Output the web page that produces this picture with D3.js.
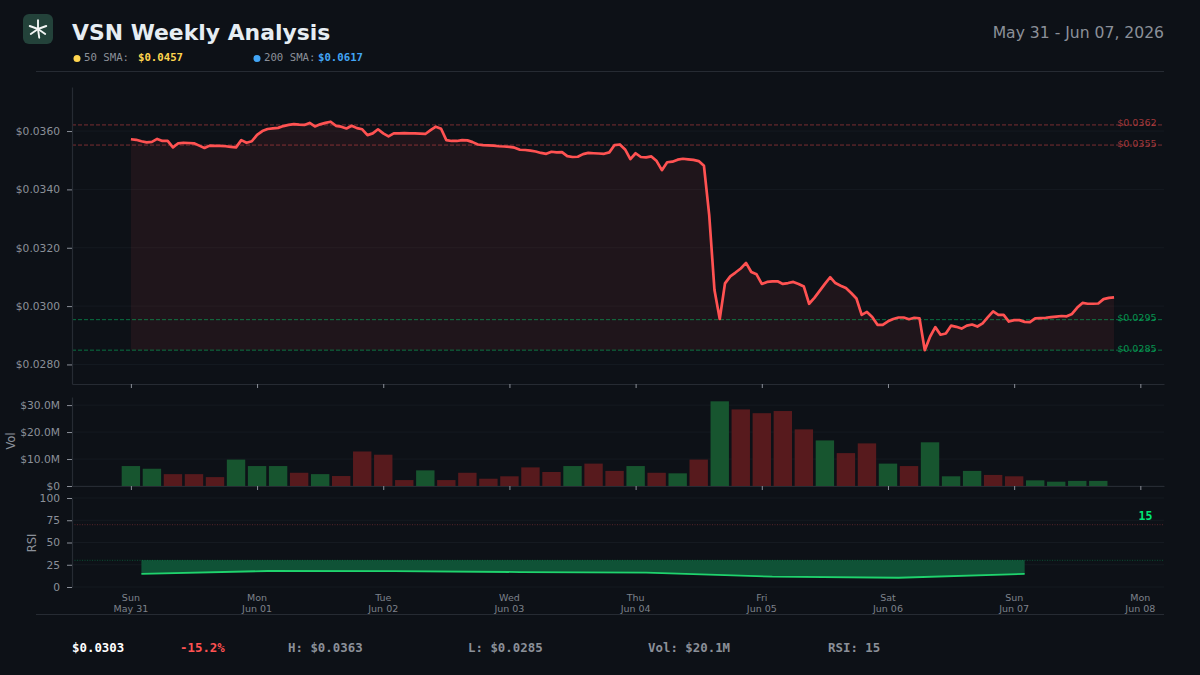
<!DOCTYPE html>
<html>
<head>
<meta charset="utf-8">
<script src="https://cdn.jsdelivr.net/npm/d3@7"></script>
<style>
  body { margin: 0; background: #0d1117; }
  text { font-family: "DejaVu Sans", sans-serif; }
  .mono { font-family: "DejaVu Sans Mono", monospace; }
</style>
</head>
<body>
<div id="chart"></div>
<script>
// hourly closes, first one is May 31 00:00
var priceValues = [
  0.03572,0.03570,0.03565,0.03561,0.03563,0.03573,0.03566,0.03566,0.03544,0.03558,0.03560,0.03559,
  0.03558,0.03550,0.03542,0.03550,0.03549,0.03549,0.03548,0.03546,0.03544,0.03569,0.03560,0.03565,
  0.03587,0.03600,0.03607,0.03609,0.03611,0.03617,0.03621,0.03624,0.03622,0.03621,0.03628,0.03616,
  0.03623,0.03628,0.03632,0.03618,0.03615,0.03609,0.03618,0.03610,0.03606,0.03586,0.03592,0.03606,
  0.03592,0.03582,0.03592,0.03592,0.03593,0.03592,0.03592,0.03591,0.03590,0.03603,0.03615,0.03608,
  0.03569,0.03566,0.03566,0.03569,0.03568,0.03562,0.03554,0.03552,0.03551,0.03550,0.03548,0.03547,
  0.03546,0.03543,0.03536,0.03535,0.03533,0.03530,0.03525,0.03522,0.03529,0.03527,0.03528,0.03514,
  0.03511,0.03512,0.03521,0.03525,0.03524,0.03523,0.03522,0.03527,0.03552,0.03554,0.03537,0.03504,
  0.03524,0.03511,0.03510,0.03513,0.03497,0.03466,0.03493,0.03495,0.03502,0.03505,0.03503,0.03501,
  0.03497,0.03481,0.03312,0.03055,0.02956,0.03078,0.03102,0.03115,0.03129,0.03148,0.03117,0.03109,
  0.03076,0.03083,0.03085,0.03085,0.03076,0.03079,0.03083,0.03076,0.03067,0.03008,0.03028,0.03052,
  0.03076,0.03099,0.03079,0.03070,0.03062,0.03045,0.03026,0.02970,0.02980,0.02963,0.02936,0.02936,
  0.02948,0.02956,0.02961,0.02961,0.02955,0.02960,0.02958,0.02849,0.02895,0.02928,0.02902,0.02906,
  0.02933,0.02929,0.02923,0.02933,0.02937,0.02930,0.02941,0.02962,0.02982,0.02970,0.02970,0.02947,
  0.02952,0.02952,0.02946,0.02945,0.02958,0.02959,0.02960,0.02962,0.02964,0.02966,0.02965,0.02973,
  0.02995,0.03011,0.03008,0.03008,0.03009,0.03024,0.03028,0.03030
];
// 4h volume in $M and whether the candle closed up
var volumeValues = [
  7.4,6.4,4.4,4.4,3.3,9.8,7.4,7.4,4.9,4.4,3.7,12.8,11.6,2.2,5.8,2.2,4.9,2.7,3.6,6.9,5.2,7.4,8.3,5.6,
  7.4,4.9,4.7,9.8,31.4,28.4,27.0,27.8,21.0,16.9,12.2,15.8,8.3,7.4,16.2,3.6,5.6,4.1,3.6,2.1,1.6,1.9,1.9
];
var volumeUp = [
  1,1,0,0,0,1,1,1,0,1,0,0,0,0,1,0,0,0,0,0,0,1,0,0,
  1,0,1,0,1,0,0,0,0,1,0,0,1,0,1,1,1,0,0,1,1,1,1
];
var rsiHours = [2,26,50,74,98,122,146,170];
var rsiValues = [14.8,18.0,17.8,16.8,16.1,11.6,10.4,14.7];

// levels are not round numbers, the labels round them to 4 places
var resistance = [0.03621,0.03552];
var support = [0.029535,0.02849];
var priceTicks = [0.0280,0.0300,0.0320,0.0340,0.0360];
var volumeTicks = [0,10,20,30];
var rsiTicks = [0,25,50,75,100];
var dayNames = ["Sun","Mon","Tue","Wed","Thu","Fri","Sat","Sun","Mon"];
var dayDates = ["May 31","Jun 01","Jun 02","Jun 03","Jun 04","Jun 05","Jun 06","Jun 07","Jun 08"];
var footerLabels = ["$0.0303","-15.2%","H: $0.0363","L: $0.0285","Vol: $20.1M","RSI: 15"];

var red = "#ff5252", green = "#00e676", grey = "#8b9099", spine = "#262b33", gridCol = "#151a21";
var width = 1200, height = 675;
var left = 72, right = 1164;

var svg = d3.select("#chart").append("svg")
  .attr("width", width)
  .attr("height", height)
  .style("display", "block");

svg.append("rect").attr("width", width).attr("height", height).attr("fill", "#0d1117");

// x is in hours since May 31 00:00
var x = d3.scaleLinear().domain([-11.2, 196.5]).range([left, right]);
var dayHours = dayNames.map(function (d, i) { return i * 24; });

var yPrice = d3.scaleLinear().domain([0.02733, 0.03751]).range([384, 87]);
var yVol = d3.scaleLinear().domain([0, 33]).range([486, 397]);
var yRsi = d3.scaleLinear().domain([0, 100]).range([587, 498]);

// header
var logo = svg.append("g").attr("transform", "translate(38,29)");
logo.append("rect").attr("x", -15).attr("y", -15).attr("width", 30).attr("height", 30).attr("rx", 6).attr("fill", "#23423a");
[-90, -20, 35, 82, 145, 200].forEach(function (a) {
  var r = a * Math.PI / 180;
  logo.append("line")
    .attr("x2", 8.8 * Math.cos(r))
    .attr("y2", 8.8 * Math.sin(r))
    .attr("stroke", "#f2f5f4")
    .attr("stroke-width", 1.9)
    .attr("stroke-linecap", "round");
});

svg.append("text").attr("x", 72).attr("y", 40)
  .attr("font-size", 21.9).attr("font-weight", "bold").attr("fill", "#e6edf3")
  .text("VSN Weekly Analysis");
svg.append("text").attr("x", right).attr("y", 38).attr("text-anchor", "end")
  .attr("font-size", 15.6).attr("fill", grey)
  .text("May 31 - Jun 07, 2026");

function legend(cx, label, labelX, value, valueX, col) {
  svg.append("circle").attr("cx", cx).attr("cy", 58.5).attr("r", 3.5).attr("fill", col);
  svg.append("text").attr("class", "mono").attr("x", labelX).attr("y", 61)
    .attr("font-size", 10.7).attr("fill", grey).text(label);
  svg.append("text").attr("class", "mono").attr("x", valueX).attr("y", 61)
    .attr("font-size", 10.7).attr("font-weight", "bold").attr("fill", col).text(value);
}
legend(77, "50 SMA:", 84, "$0.0457", 138, "#ffd54f");
legend(257, "200 SMA:", 264, "$0.0617", 318, "#42a5f5");

svg.append("line").attr("x1", 36).attr("x2", right).attr("y1", 71.5).attr("y2", 71.5).attr("stroke", spine);
svg.append("line").attr("x1", 36).attr("x2", right).attr("y1", 614.5).attr("y2", 614.5).attr("stroke", spine);

// horizontal grids
function grid(ticks, scale) {
  svg.append("g").selectAll("line").data(ticks).enter().append("line")
    .attr("x1", left).attr("x2", right)
    .attr("y1", function (d) { return scale(d); })
    .attr("y2", function (d) { return scale(d); })
    .attr("stroke", gridCol);
}
grid(priceTicks, yPrice);
grid(volumeTicks, yVol);
grid(rsiTicks, yRsi);

// price panel
var area = d3.area()
  .x(function (d, i) { return x(i); })
  .y0(yPrice(d3.min(support)))
  .y1(function (d) { return yPrice(d); });
svg.append("path").datum(priceValues).attr("d", area).attr("fill", red).attr("fill-opacity", 0.08);

function levels(vals, col) {
  vals.forEach(function (v) {
    svg.append("line").attr("x1", left).attr("x2", right)
      .attr("y1", yPrice(v)).attr("y2", yPrice(v))
      .attr("stroke", col).attr("stroke-opacity", 0.45).attr("stroke-dasharray", "4,2");
    svg.append("text").attr("x", 1156.5).attr("y", yPrice(v) + 1.5).attr("text-anchor", "end")
      .attr("font-size", 9.5).attr("fill", col).attr("fill-opacity", 0.6)
      .text("$" + v.toFixed(4));
  });
}
levels(resistance, red);
levels(support, green);

var line = d3.line()
  .x(function (d, i) { return x(i); })
  .y(function (d) { return yPrice(d); });
svg.append("path").datum(priceValues).attr("d", line)
  .attr("fill", "none").attr("stroke", red).attr("stroke-width", 2.7).attr("stroke-linejoin", "round");

// volume bars, one every 4 hours
svg.append("g").selectAll("rect").data(volumeValues).enter().append("rect")
  .attr("x", function (d, i) { return x(i * 4) - 9.2; })
  .attr("width", 18.4)
  .attr("y", function (d) { return yVol(d); })
  .attr("height", function (d) { return yVol(0) - yVol(d); })
  .attr("fill", function (d, i) { return volumeUp[i] ? "#17552f" : "#571a1d"; });

// rsi panel
svg.append("path").datum(rsiValues)
  .attr("d", d3.area()
    .x(function (d, i) { return x(rsiHours[i]); })
    .y0(yRsi(30))
    .y1(function (d) { return yRsi(d); }))
  .attr("fill", "#0f5236");
[[70, red], [30, green]].forEach(function (d) {
  svg.append("line").attr("x1", left).attr("x2", right)
    .attr("y1", yRsi(d[0])).attr("y2", yRsi(d[0]))
    .attr("stroke", d[1]).attr("stroke-opacity", 0.3).attr("stroke-dasharray", "1,1.5");
});
svg.append("path").datum(rsiValues)
  .attr("d", d3.line()
    .x(function (d, i) { return x(rsiHours[i]); })
    .y(function (d) { return yRsi(d); }))
  .attr("fill", "none").attr("stroke", "#1fd36d").attr("stroke-width", 1.8);
svg.append("text").attr("class", "mono").attr("x", 1145.5).attr("y", 520).attr("text-anchor", "middle")
  .attr("font-size", 11.5).attr("font-weight", "bold").attr("fill", green).text("15");

// axes
function styleAxis(g) {
  g.select(".domain").attr("stroke", spine).attr("stroke-width", 1.2);
  g.selectAll(".tick line").attr("stroke", grey);
  g.selectAll(".tick text").attr("fill", grey).attr("font-size", 10.7)
    .attr("font-family", '"DejaVu Sans", sans-serif');
}
function leftAxis(scale, ticks, fmt) {
  svg.append("g").attr("transform", "translate(" + left + ",0)")
    .call(d3.axisLeft(scale).tickValues(ticks).tickFormat(fmt).tickSize(5).tickSizeOuter(0).tickPadding(7))
    .call(styleAxis);
}
leftAxis(yPrice, priceTicks, function (d) { return "$" + d.toFixed(4); });
leftAxis(yVol, volumeTicks, function (d) { return d === 0 ? "$0" : "$" + d.toFixed(1) + "M"; });
leftAxis(yRsi, rsiTicks, function (d) { return d; });

[384, 486].forEach(function (yy) {
  svg.append("g").attr("transform", "translate(0," + yy + ")")
    .call(d3.axisBottom(x).tickValues(dayHours).tickFormat("").tickSize(4).tickSizeOuter(0))
    .call(styleAxis);
});

// day labels under the rsi panel
var dayLabels = svg.append("g").selectAll("g").data(dayHours).enter().append("g")
  .attr("transform", function (d) { return "translate(" + x(d) + ",0)"; });
dayLabels.append("text").attr("y", 600.5).attr("text-anchor", "middle")
  .attr("font-size", 9.5).attr("fill", "#7d828b")
  .text(function (d, i) { return dayNames[i]; });
dayLabels.append("text").attr("y", 611.5).attr("text-anchor", "middle")
  .attr("font-size", 9.5).attr("fill", "#7d828b")
  .text(function (d, i) { return dayDates[i]; });

svg.append("text").attr("transform", "translate(15,441) rotate(-90)").attr("text-anchor", "middle")
  .attr("font-size", 11.5).attr("fill", grey).text("Vol");
svg.append("text").attr("transform", "translate(36,543) rotate(-90)").attr("text-anchor", "middle")
  .attr("font-size", 11.5).attr("fill", grey).text("RSI");

// footer
var footerX = [72, 180, 288, 468, 648, 828];
var footerCol = ["#ffffff", red, grey, grey, grey, grey];
footerLabels.forEach(function (t, i) {
  svg.append("text").attr("class", "mono").attr("x", footerX[i]).attr("y", 652)
    .attr("font-size", 12.4).attr("font-weight", "bold").attr("fill", footerCol[i]).text(t);
});
</script>
</body>
</html>
